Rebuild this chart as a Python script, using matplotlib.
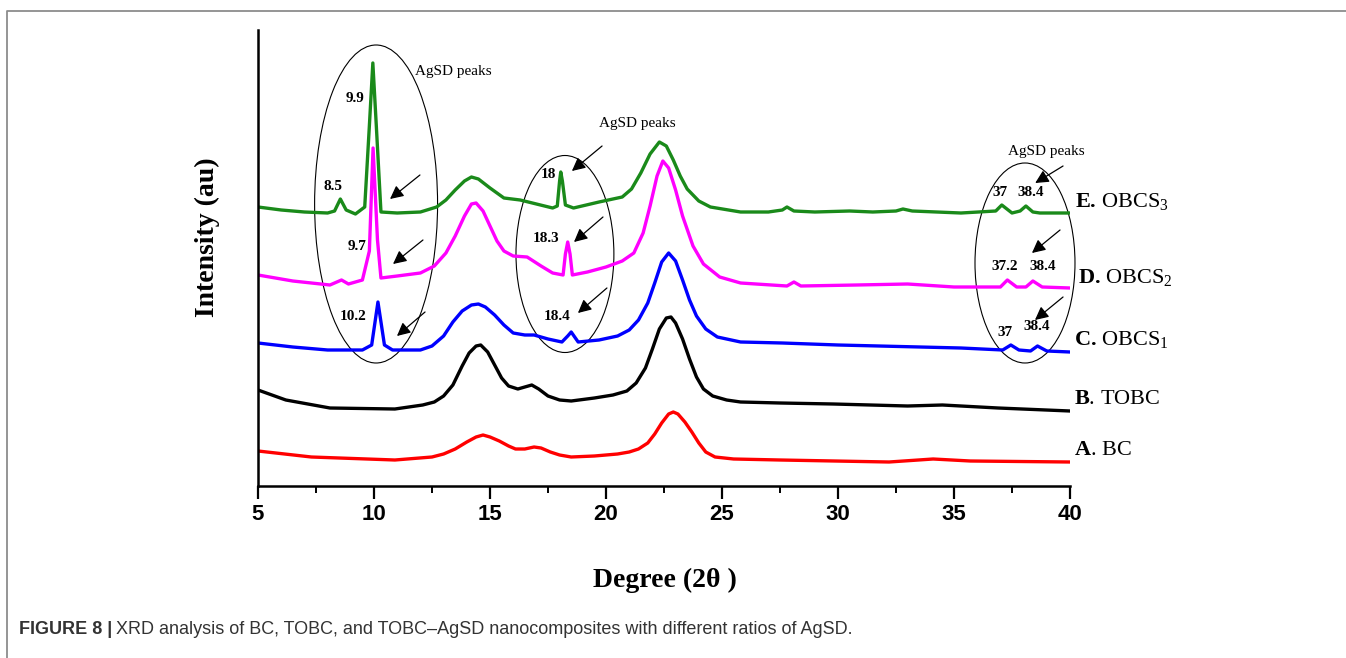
import matplotlib
matplotlib.use("Agg")
import matplotlib.pyplot as plt
from matplotlib.patches import Ellipse
from matplotlib.lines import Line2D

plt.rcParams['mathtext.fontset'] = 'custom'
plt.rcParams['mathtext.rm'] = 'Liberation Serif'
plt.rcParams['mathtext.bf'] = 'Liberation Serif:bold'
plt.rcParams['mathtext.it'] = 'Liberation Serif:italic'

# XRD patterns (2theta in degrees, stacked intensity in au)
bc_x = [5.0, 7.3, 10.9, 12.5, 13.0, 13.5, 14.0, 14.4, 14.7, 15.0, 15.4, 15.8, 16.1, 16.5,
        16.9, 17.2, 17.6, 18.0, 18.5, 19.5, 20.5, 21.0, 21.4, 21.8, 22.1, 22.4, 22.7, 22.9,
        23.1, 23.4, 23.7, 24.0, 24.3, 24.7, 25.5, 27.5, 32.2, 34.1, 35.7, 40.0]
bc_y = [35, 29, 26, 29, 32, 37, 44, 49, 51, 49, 45, 40, 37, 37,
        39, 38, 34, 31, 29, 30, 32, 34, 37, 43, 52, 63, 72, 74,
        72, 64, 54, 43, 34, 29, 27, 26, 24, 27, 25, 24]

tobc_x = [5.0, 6.2, 8.1, 10.9, 12.1, 12.6, 13.0, 13.4, 13.8, 14.1, 14.4, 14.6, 14.9, 15.2,
          15.5, 15.8, 16.2, 16.5, 16.8, 17.1, 17.5, 18.0, 18.5, 19.5, 20.3, 20.9, 21.3,
          21.7, 22.0, 22.3, 22.6, 22.8, 23.0, 23.3, 23.6, 23.9, 24.2, 24.6, 25.2, 25.8,
          27.5, 29.8, 33.0, 34.5, 36.9, 40.0]
tobc_y = [96, 86, 78, 77, 81, 84, 90, 101, 120, 133, 140, 141, 134, 121,
          108, 100, 97, 99, 101, 97, 90, 86, 85, 88, 91, 95, 103,
          118, 137, 157, 168, 169, 163, 147, 127, 109, 97, 90, 86, 84,
          83, 82, 80, 81, 78, 75]

obcs1_x = [5.0, 6.5, 8.0, 9.5, 9.9, 10.17, 10.45, 10.8, 12.0, 12.5, 13.0, 13.4, 13.8, 14.2,
           14.5, 14.8, 15.2, 15.6, 16.0, 16.5, 16.9, 17.5, 18.1, 18.35, 18.5, 18.65, 18.8,
           19.7, 20.5, 21.0, 21.4, 21.8, 22.1, 22.4, 22.7, 23.0, 23.3, 23.6, 23.9, 24.3,
           24.8, 25.8, 27.6, 30.0, 35.3, 37.1, 37.45, 37.8, 38.3, 38.6, 39.0, 40.0]
obcs1_y = [143, 139, 136, 136, 141, 184, 141, 136, 136, 140, 150, 164, 175, 181,
           182, 179, 171, 161, 153, 151, 151, 147, 144, 150, 154, 149, 144,
           146, 150, 156, 166, 183, 203, 224, 233, 225, 206, 186, 170, 157,
           149, 144, 143, 141, 138, 136, 141, 136, 135, 140, 135, 134]

obcs2_x = [5.0, 6.5, 8.1, 8.6, 8.9, 9.5, 9.8, 9.96, 10.15, 10.3, 11.0, 12.0, 12.6, 13.1,
           13.5, 13.9, 14.2, 14.4, 14.7, 15.0, 15.3, 15.6, 16.0, 16.6, 17.2, 17.7, 18.15,
           18.25, 18.35, 18.45, 18.55, 19.2, 20.0, 20.7, 21.2, 21.6, 21.9, 22.2, 22.45,
           22.7, 23.0, 23.3, 23.75, 24.2, 24.9, 25.8, 27.8, 28.1, 28.4, 30.8, 33.0, 35.0,
           37.0, 37.3, 37.7, 38.1, 38.4, 38.8, 40.0]
obcs2_y = [211, 205, 201, 206, 202, 206, 235, 338, 246, 208, 210, 213, 220, 233,
           250, 270, 282, 283, 275, 260, 245, 235, 230, 229, 220, 213, 211,
           232, 244, 232, 211, 214, 219, 225, 233, 253, 280, 310, 325,
           318, 296, 270, 240, 222, 209, 203, 200, 204, 200, 201, 202, 199,
           199, 206, 199, 199, 205, 199, 198]

obcs3_x = [5.0, 6.0, 7.0, 8.0, 8.3, 8.55, 8.8, 9.2, 9.6, 9.8, 9.95, 10.1, 10.3, 11.0, 12.0,
           12.7, 13.1, 13.5, 13.9, 14.2, 14.5, 15.0, 15.6, 16.3, 17.0, 17.7, 17.9, 18.0,
           18.05, 18.12, 18.25, 18.6, 19.7, 20.7, 21.1, 21.5, 21.9, 22.3, 22.6, 22.9, 23.2,
           23.5, 24.0, 24.5, 25.8, 27.0, 27.6, 27.8, 28.1, 29.0, 30.5, 31.5, 32.5, 32.8,
           33.2, 35.3, 36.8, 37.06, 37.5, 37.85, 38.1, 38.4, 38.7, 40.0]
obcs3_y = [279, 276, 274, 273, 275, 287, 276, 272, 279, 360, 423, 360, 274, 273, 274,
           279, 286, 296, 305, 309, 307, 298, 288, 286, 282, 278, 280, 305,
           314, 305, 281, 278, 284, 289, 297, 313, 332, 344, 340, 326, 310,
           297, 285, 279, 274, 274, 276, 279, 275, 274, 275, 274, 275, 277,
           275, 273, 275, 281, 273, 275, 280, 274, 273, 273]

series = [
    (bc_x, bc_y, '#ff0000', r'$\mathbf{A}.\,\mathrm{BC}$', 40.17, 37),
    (tobc_x, tobc_y, '#000000', r'$\mathbf{B}.\,\mathrm{TOBC}$', 40.17, 88),
    (obcs1_x, obcs1_y, '#0000ff', r'$\mathbf{C.}\,\mathrm{OBCS}_1$', 40.17, 146),
    (obcs2_x, obcs2_y, '#ff00ff', r'$\mathbf{D.}\,\mathrm{OBCS}_2$', 40.35, 209),
    (obcs3_x, obcs3_y, '#1a8a1a', r'$\mathbf{E.}\,\mathrm{OBCS}_3$', 40.2, 284),
]

# peak labels: (text, x, y)
peak_labels = [
    ('9.9', 9.18, 388), ('8.5', 8.23, 299), ('9.7', 9.27, 239), ('10.2', 9.09, 169),
    ('18', 17.5, 312), ('18.3', 17.41, 247), ('18.4', 17.89, 170),
    ('37', 36.98, 293), ('38.4', 38.32, 293), ('37.2', 37.2, 219), ('38.4', 38.84, 219),
    ('37', 37.2, 153), ('38.4', 38.58, 159),
]
group_labels = [(13.41, 415), (21.34, 362), (39.0, 334)]
arrows = [
    ((11.98, 311), (10.69, 287)), ((12.11, 246), (10.82, 222)), ((12.2, 174), (10.99, 150)),
    ((19.83, 340), (18.53, 315)), ((19.87, 269), (18.62, 244)), ((20.04, 198), (18.79, 173)),
    ((39.7, 320), (38.5, 303)), ((39.57, 256), (38.36, 233)), ((39.7, 189), (38.49, 166)),
]
# ellipses: centre x, centre y, width (deg), height (au)
ellipses = [(10.09, 282, 5.30, 318), (18.23, 232, 4.22, 197), (38.06, 223, 4.31, 200)]

fig = plt.figure(figsize=(13.46, 6.58), dpi=100)
ax = fig.add_axes([258 / 1346, 1 - 486 / 658, 812 / 1346, 456 / 658])

for x, y, c, lab, lx, ly in series:
    ax.plot(x, y, color=c, lw=2.4, solid_joinstyle='round')
    ax.text(lx, ly, lab, fontsize=16, va='center', ha='left', clip_on=False)

for t, x, y in peak_labels:
    ax.text(x, y, t, fontsize=11, family='Liberation Serif', weight='bold',
            ha='center', va='center')
for x, y in group_labels:
    ax.text(x, y, 'AgSD peaks', fontsize=11, family='Liberation Serif',
            ha='center', va='center', clip_on=False)
for tail, tip in arrows:
    ax.annotate('', xy=tip, xytext=tail,
                arrowprops=dict(arrowstyle='-|>', color='k', lw=0.9, mutation_scale=20,
                                shrinkA=0, shrinkB=0), annotation_clip=False)
for cx, cy, w, h in ellipses:
    ax.add_patch(Ellipse((cx, cy), w, h, fill=False, ec='k', lw=0.8, clip_on=False))

ax.set_xlim(5, 40)
ax.set_ylim(0, 456)
ax.spines['top'].set_visible(False)
ax.spines['right'].set_visible(False)
ax.spines['left'].set_linewidth(1.8)
ax.spines['bottom'].set_linewidth(1.8)
ax.set_yticks([])
ax.set_xticks([5, 10, 15, 20, 25, 30, 35, 40])
ax.set_xticks([7.5, 12.5, 17.5, 22.5, 27.5, 32.5, 37.5], minor=True)
ax.tick_params(axis='x', which='major', direction='out', length=9, width=1.6, pad=4)
ax.tick_params(axis='x', which='minor', direction='out', length=5, width=1.4)
for lbl in ax.get_xticklabels():
    lbl.set_family('Liberation Sans')
    lbl.set_weight('bold')
    lbl.set_fontsize(16)

fig.text(665 / 1346, 1 - 580 / 658, 'Degree (2\u03b8 )', fontsize=20, family='Liberation Serif',
         weight='bold', ha='center', va='center')
fig.text(207 / 1346, 1 - 237 / 658, 'Intensity (au)', fontsize=20, family='Liberation Serif',
         weight='bold', ha='center', va='center', rotation=90)

# grey frame
fig.add_artist(Line2D([7 / 1346, 7 / 1346, 1], [0, 1 - 11 / 658, 1 - 11 / 658],
                      transform=fig.transFigure, color='#8c8c8c', lw=1.3))

# caption
cap1 = fig.text(19 / 1346, 1 - 630 / 658, 'FIGURE 8 |', fontsize=13, family='Liberation Sans',
                weight='bold', color='#333333', va='center', ha='left')
fig.canvas.draw()
bb = cap1.get_window_extent()
fig.text((bb.x1 + 4) / 1346, 1 - 630 / 658,
         'XRD analysis of BC, TOBC, and TOBC\u2013AgSD nanocomposites with different ratios of AgSD.',
         fontsize=13, family='Liberation Sans', color='#333333', va='center', ha='left')

fig.savefig('out.png', dpi=100)
